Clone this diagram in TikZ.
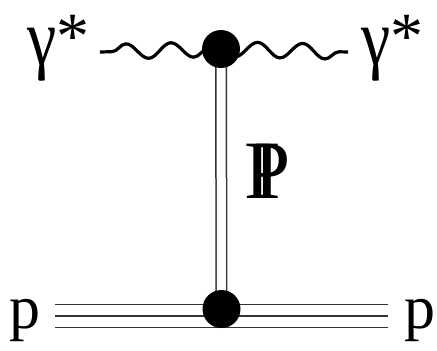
\documentclass[tikz,border=0pt]{standalone}
\usepackage{graphicx}
\usepackage{fontspec}
\setmainfont{Liberation Serif}
\usetikzlibrary{decorations.pathmorphing}

\tikzset{
    vertex/.style={circle, fill=black, minimum size=38pt, inner sep=0pt},
    photon/.style={line width=3.2pt, decorate,
        decoration={snake, amplitude=7.5pt, segment length=45pt}},
    pomeron/.style={double, double distance=9pt, line width=1.5pt, draw=black!80},
    proton/.style={double, double distance=21.3pt, line width=1.5pt, draw=black!80},
    lbl/.style={inner sep=0pt, font=\fontsize{62}{62}\selectfont},
    glbl/.style={inner sep=0pt, font=\fontsize{66}{66}\selectfont}
}
\newcommand{\gstar}{\scalebox{1}[1.2]{γ}\raisebox{6pt}{*}}

\begin{document}
\begin{tikzpicture}[x=1pt, y=-1pt]
    \useasboundingbox (0,0) rectangle (437,351);

    \coordinate (top) at (221,49);
    \coordinate (bot) at (221.5,309);
    \coordinate (win) at (100,52);
    \coordinate (wout) at (348,52);

    \node[glbl, anchor=base west] (gin) at (27,64) {\gstar};
    \node[glbl, anchor=base west] (gout) at (361,64) {\gstar};
    \node[lbl, anchor=base west] (pin) at (9,328) {p};
    \node[lbl, anchor=base west] (pout) at (404,328) {p};
    \node[inner sep=0pt, anchor=base west, font=\fontsize{83}{83}\selectfont]
        (pom) at (244,198) {\makebox[0pt][l]{\hspace{0.115em}I}P};

    % photons
    \draw[photon, decoration={pre length=12pt}] (win) -- (top);
    \draw[photon, decoration={amplitude=-7.5pt}] (top) -- (wout);

    % pomeron and proton lines
    \draw[pomeron] (top) -- (bot);
    \draw[proton] ([xshift=15pt,yshift=12pt]pin.base east) -- ([xshift=-16pt,yshift=12pt]pout.base west);
    \draw[line width=1.5pt, black!80] ([xshift=15pt,yshift=12pt]pin.base east) -- ([xshift=-16pt,yshift=12pt]pout.base west);

    \node[vertex] at (top) {};
    \node[vertex] at (bot) {};
\end{tikzpicture}
\end{document}
